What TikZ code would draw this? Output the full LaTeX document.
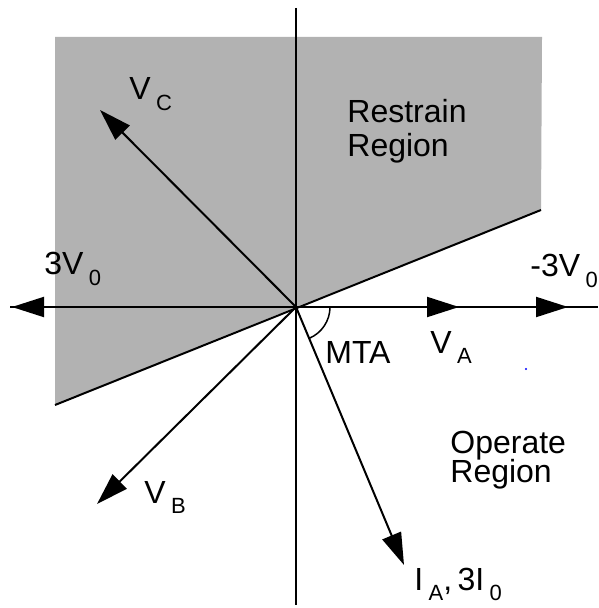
\documentclass[tikz,border=0pt]{standalone}
\usepackage{fontspec}
\setmainfont{Liberation Sans}
\usetikzlibrary{arrows.meta}
\newcommand\lowsub[1]{\raisebox{-0.6ex}{\fontsize{11}{11}\selectfont #1}}

\begin{document}
\begin{tikzpicture}[
    x=0.5pt, y=-0.5pt,
    vec/.style={-{Triangle[length=16pt, width=10pt]}, line width=1pt},
    axis/.style={line width=0.75pt},
    lbl/.style={font=\fontsize{16}{17}\selectfont, inner sep=0pt, anchor=base west},
    region/.style={lbl, align=left}
]
    \useasboundingbox (0,0) rectangle (598,608);

    % Points
    \coordinate (O) at (296,307);
    \coordinate (tl) at (55,37);
    \coordinate (tr) at (542,37);
    \coordinate (rb) at (541,210);
    \coordinate (lb) at (55,405);

    % Restrain area
    \fill[black!30] (tl) -- (tr) -- (rb) -- (O) -- (lb) -- cycle;
    \draw[line width=1pt] (rb) -- (lb);

    % Axes
    \coordinate (xl) at (10,307);
    \coordinate (xr) at (598,307);
    \coordinate (yt) at (296,8);
    \coordinate (yb) at (296,605);
    \draw[axis] (xl) -- (xr);
    \draw[axis] (yt) -- (yb);

    % Vector tips
    \coordinate (vc) at (100,110);
    \coordinate (v0l) at (12,307);
    \coordinate (va) at (459,307);
    \coordinate (v0r) at (568,307);
    \coordinate (vb) at (97,504);
    \coordinate (ia) at (404,565);

    \draw[vec] (O) -- (vc);
    \draw[vec] (O) -- (v0l);
    \draw[vec] (O) -- (v0r);
    \draw[vec] (O) -- (va);
    \draw[vec] (O) -- (vb);
    \draw[vec] (O) -- (ia);

    % MTA angle
    \draw[line width=0.75pt] ([shift={(0:34)}]O) arc[start angle=0, end angle=67, radius=34];

    % Labels
    \node[lbl] (lvc) at (129,100) {V\,\lowsub{C}};
    \node[lbl] (lv0l) at (44,275) {3V\,\lowsub{0}};
    \node[lbl] (lv0r) at (530,277) {-3V\,\lowsub{0}};
    \node[lbl] (lva) at (430,353) {V\,\lowsub{A}};
    \node[lbl] (lmta) at (325,363) {MTA};
    \node[lbl] (lvb) at (144,503) {V\,\lowsub{B}};
    \node[lbl] (lia) at (414,590) {I\,\lowsub{A},\,3I\,\lowsub{0}};
    \node[lbl] (lres1) at (347,123) {Restrain};
    \node[lbl] (lres2) at (347,157) {Region};
    \node[lbl] (lop1) at (450,453) {Operate};
    \node[lbl] (lop2) at (450,482) {Region};

    % speck
    \fill[blue] (526,369) circle[radius=1.2];

\end{tikzpicture}
\end{document}
